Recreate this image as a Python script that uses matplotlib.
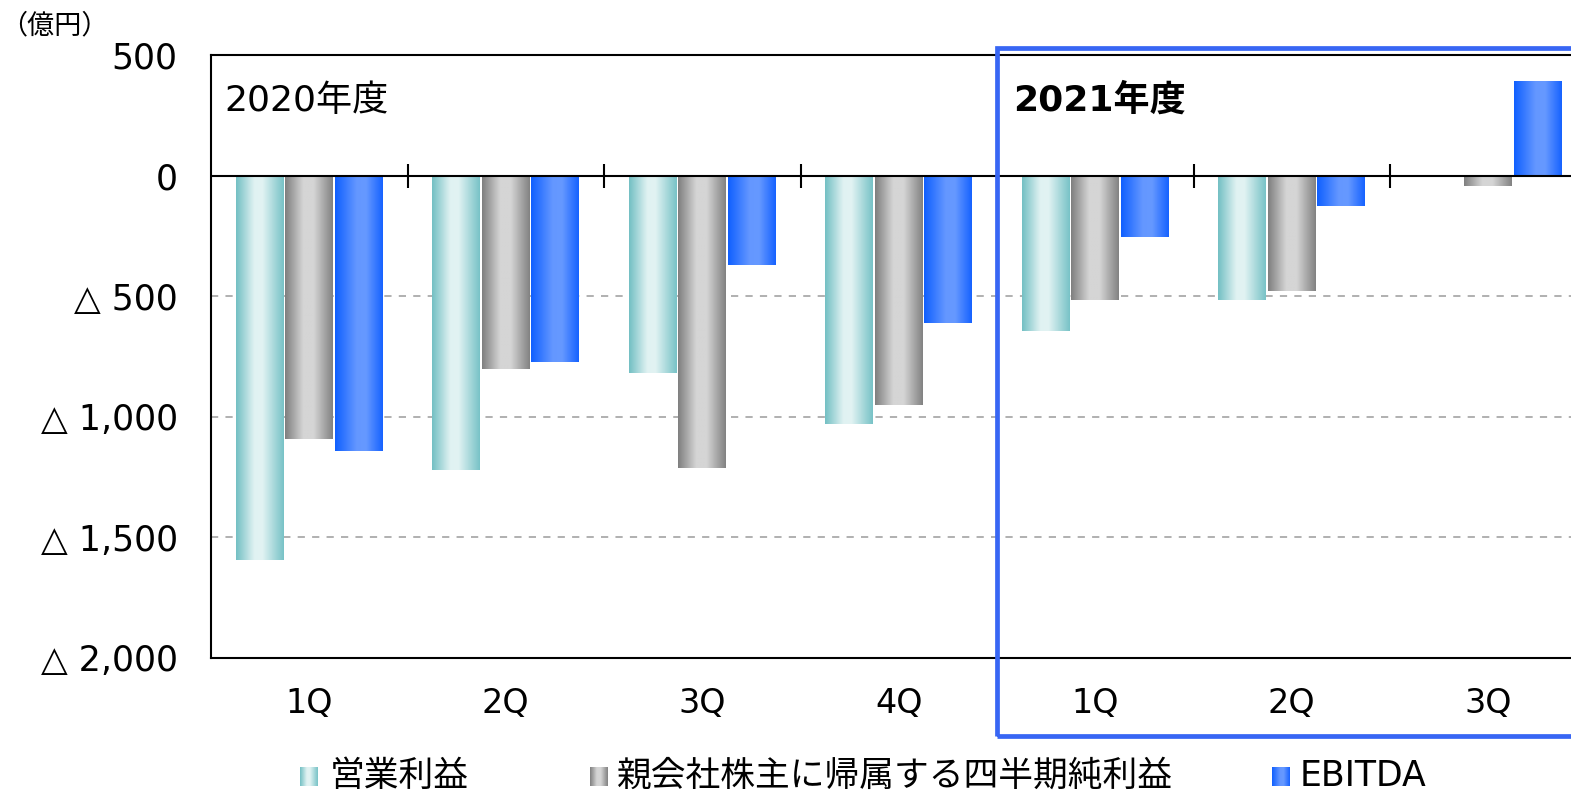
import numpy as np
import matplotlib
matplotlib.use("Agg")
import matplotlib.pyplot as plt
from matplotlib.colors import LinearSegmentedColormap
from matplotlib.patches import Rectangle

plt.rcParams["font.family"] = ["DejaVu Sans", "Noto Sans CJK JP"]

# ---- data (億円) ----
quarters = ["1Q", "2Q", "3Q", "4Q", "1Q", "2Q", "3Q"]
series_names = ["営業利益", "親会社株主に帰属する四半期純利益", "EBITDA"]
op_income = [-1592, -1222, -817, -1028, -646, -514, 0]
net_income = [-1090, -800, -1212, -953, -514, -477, -44]
ebitda = [-1143, -771, -371, -610, -254, -127, 393]
yticks = [500, 0, -500, -1000, -1500, -2000]
ytick_labels = ["500", "0", "△ 500", "△ 1,000", "△ 1,500", "△ 2,000"]

W, H = 1571, 791
fig = plt.figure(figsize=(W / 100, H / 100), dpi=100)

# plot area runs a little past the right edge, as in the original
ax = fig.add_axes([211 / W, (H - 658) / H, 1375.5 / W, 603 / H])

grads = [
    LinearSegmentedColormap.from_list("teal", [(0, "#74c0c4"), (0.38, "#e0f2f2"), (0.55, "#e2f3f3"), (1, "#79c3c7")]),
    LinearSegmentedColormap.from_list("gray", [(0, "#808080"), (0.38, "#d5d5d5"), (0.6, "#d5d5d5"), (1, "#838383")]),
    LinearSegmentedColormap.from_list("blue", [(0, "#1060ff"), (0.45, "#6497ff"), (0.65, "#6699ff"), (1, "#1763ff")]),
]
ramp = np.linspace(0, 1, 64).reshape(1, -1)

bw = 0.25
offsets = [-0.253, 0.0, 0.253]
for vals, off, cm in zip([op_income, net_income, ebitda], offsets, grads):
    for i, v in enumerate(vals):
        if v == 0:
            continue
        x0 = i + off - bw / 2 + 0.003
        ax.imshow(ramp, cmap=cm, aspect="auto", interpolation="bilinear",
                  extent=(x0, x0 + bw - 0.006, min(0, v), max(0, v)), zorder=3)

ax.set_xlim(-0.5, len(quarters) - 0.5)
ax.set_ylim(-2000, 500)
ax.set_yticks(yticks)
ax.set_yticklabels(ytick_labels, fontsize=25)
ax.set_xticks(range(len(quarters)))
ax.set_xticklabels(quarters, fontsize=24)
ax.tick_params(axis="y", length=0, pad=24)
ax.tick_params(axis="x", length=0, pad=21)

ax.grid(axis="y", color="#aaaaaa", ls=(0, (4, 4)), lw=1.3, zorder=1)
ax.set_axisbelow(True)
ax.axhline(0, color="black", lw=1.5, zorder=4)
ax.plot(np.arange(len(quarters) - 1) + 0.5, np.zeros(len(quarters) - 1), ls="none",
        marker="|", ms=17, mew=1.5, color="black", zorder=4)
for side in ["left", "bottom", "top"]:
    ax.spines[side].set_linewidth(1.5)
    ax.spines[side].set_color("black")

ax.text(-0.43, 310, "2020年度", fontsize=26, va="center", ha="left", zorder=5)
ax.text(3.58, 310, "2021年度", fontsize=26, fontweight="bold", va="center", ha="left", zorder=5)

fig.text(0.5 / W, 1 - 26 / H, "（億円）", fontsize=19.5, ha="left", va="center",
         family=["Noto Sans CJK JP", "DejaVu Sans"])

# highlight frame around FY2021
fig.add_artist(Rectangle((997 / W, (H - 736) / H), 700 / W, (736 - 47.5) / H,
                         transform=fig.transFigure, fill=False, ec="#3866f4", lw=3.4,
                         clip_on=False, zorder=10))

# legend along the bottom
leg_marker_x = [300, 590, 1272]
leg_text_x = [330, 617, 1300]
for name, cm, mx, tx in zip(series_names, grads, leg_marker_x, leg_text_x):
    lax = fig.add_axes([mx / W, (H - 786) / H, 18 / W, 19 / H])
    lax.imshow(ramp, cmap=cm, aspect="auto", interpolation="bilinear")
    lax.axis("off")
    fig.text(tx / W, 1 - 776 / H, name, fontsize=25, ha="left", va="center")

fig.savefig("out.png", dpi=100)
